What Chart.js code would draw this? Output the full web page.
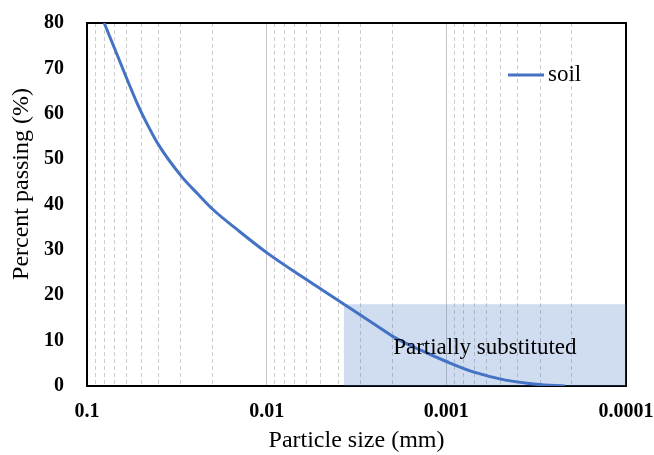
<!DOCTYPE html>
<html><head><meta charset="utf-8">
<script src="https://cdn.jsdelivr.net/npm/chart.js@4"></script>
<style>html,body{margin:0;padding:0;background:#fff}#wrap{width:654px;height:455px}</style>
</head><body><div id="wrap"><canvas id="c" width="654" height="455"></canvas></div>
<script>
// ---- data ----
const particleSize = [0.0802, 0.0670, 0.0590, 0.0519, 0.0447, 0.0402, 0.0298, 0.0240, 0.0199, 0.0141, 0.0100, 0.00631, 0.00377, 0.00236, 0.00200, 0.00141, 0.00100, 0.000708, 0.000468, 0.000316, 0.000219];
const percentPassing = [80, 72.4, 67.0, 61.8, 56.6, 53.3, 46.2, 42.2, 38.9, 34.0, 29.4, 24.0, 18.2, 12.9, 11.0, 8.0, 5.4, 3.1, 1.3, 0.4, 0];
const zoneX = [0.00373, 0.0001];
const zoneY = [18, 18];
const zoneLabel = 'Partially substituted';
const seriesLabel = 'soil';
const xTickValues = [0.1, 0.01, 0.001, 0.0001];
const xTickLabels = ['0.1', '0.01', '0.001', '0.0001'];
const yTickValues = [0, 10, 20, 30, 40, 50, 60, 70, 80];
const xTitle = 'Particle size (mm)';
const yTitle = 'Percent passing (%)';

const SERIF = '"Liberation Serif", "Times New Roman", serif';
const BLUE = '#4472C4';

function isMajor(v) {
  return xTickValues.some(t => Math.abs(Math.log10(v) - Math.log10(t)) < 1e-6);
}

const decorPlugin = {
  id: 'decor',
  beforeDatasetsDraw(chart) {
    const {ctx, chartArea: a} = chart;
    ctx.save();
    ctx.strokeStyle = '#000';
    ctx.lineWidth = 2;
    ctx.beginPath();
    ctx.moveTo(a.left, a.top);
    ctx.lineTo(a.right, a.top);
    ctx.lineTo(a.right, a.bottom);
    ctx.stroke();
    ctx.restore();
  },
  afterDatasetsDraw(chart) {
    const {ctx, scales} = chart;
    ctx.save();
    // zone label
    const zx = (scales.x.getPixelForValue(zoneX[0]) + scales.x.getPixelForValue(zoneX[1])) / 2;
    const zy = scales.y.getPixelForValue(zoneY[0] / 2);
    ctx.font = '23px ' + SERIF;
    ctx.fillStyle = '#000';
    ctx.textAlign = 'center';
    ctx.textBaseline = 'middle';
    ctx.fillText(zoneLabel, zx, zy + 3);
    // legend
    const ds = chart.data.datasets[0];
    const ly = 75;
    ctx.strokeStyle = ds.borderColor;
    ctx.lineWidth = 3;
    ctx.beginPath();
    ctx.moveTo(508, ly);
    ctx.lineTo(544, ly);
    ctx.stroke();
    ctx.textAlign = 'left';
    ctx.fillText(ds.label, 548, ly);
    // y title
    ctx.font = '24px ' + SERIF;
    ctx.translate(22, 184);
    ctx.rotate(-Math.PI / 2);
    ctx.textAlign = 'center';
    ctx.fillText(yTitle, 0, 0);
    ctx.restore();
  }
};

new Chart(document.getElementById('c'), {
  type: 'line',
  data: {
    datasets: [
      {
        label: seriesLabel,
        data: particleSize.map((x, i) => ({x, y: percentPassing[i]})),
        borderColor: BLUE,
        borderWidth: 3,
        pointRadius: 0,
        cubicInterpolationMode: 'monotone',
        fill: false,
        order: 0
      },
      {
        label: zoneLabel,
        data: zoneX.map((x, i) => ({x, y: zoneY[i]})),
        borderWidth: 0,
        borderColor: 'rgba(0,0,0,0)',
        backgroundColor: 'rgba(68,114,196,0.25)',
        pointRadius: 0,
        fill: 'origin',
        order: 1
      }
    ]
  },
  options: {
    responsive: false,
    animation: false,
    devicePixelRatio: 1,
    layout: {padding: {top: 23, right: 28, left: 0, bottom: 0}},
    plugins: {legend: {display: false}, tooltip: {enabled: false}},
    scales: {
      x: {
        type: 'logarithmic',
        reverse: true,
        min: 0.0001,
        max: 0.1,
        afterBuildTicks(scale) {
          const ticks = [];
          for (let e = -4; e <= -1; e++) {
            for (let m = 1; m <= 9; m++) {
              const v = m * Math.pow(10, e);
              if (v <= 0.1 + 1e-12) ticks.push({value: v});
            }
          }
          scale.ticks = ticks;
        },
        afterFit(scale) {
          scale.height = 69;
          scale.paddingLeft = 0; scale.paddingRight = 0;
        },
        ticks: {
          autoSkip: false,
          maxRotation: 0,
          padding: 14,
          color: '#000',
          font: {family: SERIF, size: 20, weight: 'bold'},
          callback(v) {
            const i = xTickValues.findIndex(t => Math.abs(Math.log10(v) - Math.log10(t)) < 1e-6);
            return i >= 0 ? xTickLabels[i] : '';
          }
        },
        grid: {
          drawTicks: false,
          lineWidth: 1,
          color: c => (c.tick && isMajor(c.tick.value)) ? '#c4c4c4' : '#cccccc'
        },
        border: {
          display: true,
          color: '#000',
          width: 2,
          dash: c => (c.tick && !isMajor(c.tick.value)) ? [4, 3] : []
        },
        title: {
          display: true,
          text: xTitle,
          color: '#000',
          font: {family: SERIF, size: 24},
          padding: {top: 0, bottom: 0}
        }
      },
      y: {
        min: 0,
        max: 80,
        afterBuildTicks(scale) { scale.ticks = yTickValues.map(v => ({value: v})); },
        afterFit(scale) {
          scale.width = 87;
          scale.paddingTop = 0; scale.paddingBottom = 0;
        },
        ticks: {
          padding: 23,
          color: '#000',
          font: {family: SERIF, size: 20, weight: 'bold'}
        },
        grid: {display: false, drawTicks: false},
        border: {display: true, color: '#000', width: 2}
      }
    }
  },
  plugins: [decorPlugin]
});
</script>
</body></html>
